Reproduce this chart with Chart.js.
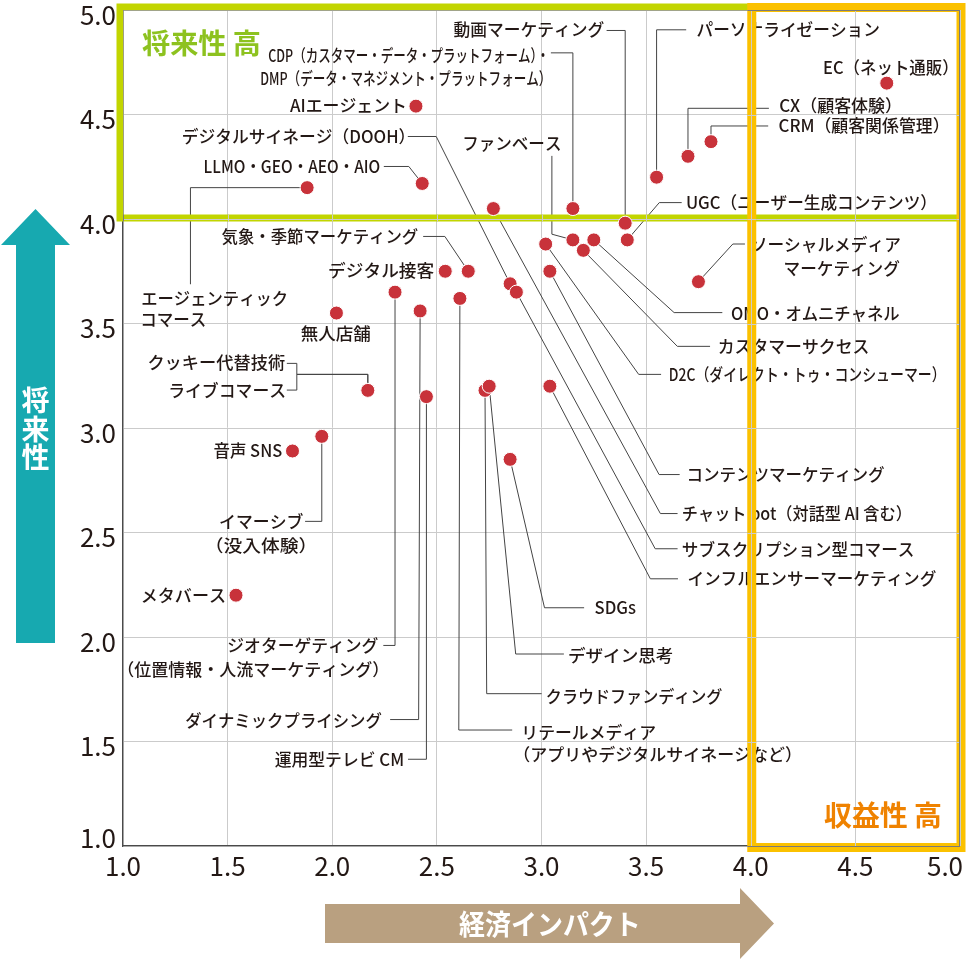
<!DOCTYPE html>
<html lang="ja">
<head>
<meta charset="utf-8">
<title>経済インパクト × 将来性</title>
<script src="https://cdn.jsdelivr.net/npm/chart.js@4.4.1/dist/chart.umd.min.js"></script>
<style>
  html, body { margin: 0; padding: 0; background: #fff; }
  #wrap { width: 980px; height: 976px; }
</style>
</head>
<body>
<div id="wrap"><canvas id="myChart" width="980" height="976"></canvas></div>
<script>
// chart data
const names = [
    'EC（ネット通販）',
    'CRM（顧客関係管理）',
    'CX（顧客体験）',
    'パーソナライゼーション',
    '動画マーケティング',
    'CDP（カスタマー・データ・プラットフォーム）・\nDMP（データ・マネジメント・プラットフォーム）',
    'ファンベース',
    'OMO・オムニチャネル',
    'カスタマーサクセス',
    'UGC（ユーザー生成コンテンツ）',
    'D2C（ダイレクト・トゥ・コンシューマー）',
    'コンテンツマーケティング',
    'ソーシャルメディア\nマーケティング',
    'チャット bot（対話型 AI 含む）',
    'デジタルサイネージ（DOOH）',
    'サブスクリプション型コマース',
    '気象・季節マーケティング',
    'デジタル接客',
    'ジオターゲティング\n（位置情報・人流マーケティング）',
    'ダイナミックプライシング',
    'リテールメディア\n（アプリやデジタルサイネージなど）',
    '無人店舗',
    'ライブコマース',
    'クッキー代替技術',
    '運用型テレビ CM',
    'クラウドファンディング',
    'デザイン思考',
    'インフルエンサーマーケティング',
    'SDGs',
    '音声 SNS',
    'イマーシブ\n（没入体験）',
    'メタバース',
    'AIエージェント',
    'LLMO・GEO・AEO・AIO',
    'エージェンティック\nコマース'
];

// 経済インパクト (x)
const impact = [4.65, 3.81, 3.70, 3.55, 3.40, 3.15, 3.15, 3.25, 3.20, 3.41,
                3.02, 3.04, 3.75, 2.77, 2.85, 2.88, 2.65, 2.54, 2.30, 2.42,
                2.61, 2.02, 2.17, 2.17, 2.45, 2.73, 2.75, 3.04, 2.85, 1.81,
                1.95, 1.54, 2.40, 2.43, 1.88];

// 将来性 (y)
const future = [4.65, 4.37, 4.30, 4.20, 3.98, 4.05, 3.90, 3.90, 3.85, 3.90,
                3.88, 3.75, 3.70, 4.05, 3.69, 3.65, 3.75, 3.75, 3.65, 3.56,
                3.62, 3.55, 3.18, 3.18, 3.15, 3.18, 3.20, 3.20, 2.85, 2.89,
                2.96, 2.20, 4.54, 4.17, 4.15];

const tickLabels = ['1.0', '1.5', '2.0', '2.5', '3.0', '3.5', '4.0', '4.5', '5.0'];

const xTitle = '経済インパクト';
const yTitle = '将来性';
const topZone = '将来性 高';
const rightZone = '収益性 高';

// label layout, pixels relative to each point:
// t = text lines [inkLeft, inkRight, centerY], p = leader line waypoints
const spots = [
    { t: [[-62.7, 61.3, -15.7]], p: [] },
    { t: [[67.5, 227.6, -15.7]], p: [[57.2, -15.7], [0, -15.7]] },
    { t: [[91.2, 203.1, -50.3]], p: [[80.9, -48], [0, -48]] },
    { t: [[39.9, 222.4, -147.4]], p: [[29.6, -147.4], [0, -147.4]] },
    { t: [[-171.8, -21, -192.7]], p: [[-18.6, -192.7], [0, -192.7]] },
    { t: [[-304.6, -28, -154], [-311.9, -29.6, -130.7]], p: [[-22, -155.7], [0, -155.7]] },
    { t: [[-108.8, -12.4, -95]], p: [[-21, -84], [-21, -5.7]] },
    { t: [[137.1, 305.8, 73.7]], p: [[128.5, 72.7], [80.3, 72.7]] },
    { t: [[135.3, 285.1, 96]], p: [[126.7, 96], [94, 96]] },
    { t: [[59.6, 298.9, -37.3]], p: [[54.4, -37.3], [32, -37.3]] },
    { t: [[124, 390.9, 130.3]], p: [[115.4, 130.3], [93, 130.3]] },
    { t: [[138.5, 334.7, 203.3]], p: [[129.8, 203.3], [109.2, 203.3]] },
    { t: [[53.3, 201.4, -37.7], [86.1, 201.4, -13.3]], p: [[46.5, -37.7], [34.4, -37.7]] },
    { t: [[189.4, 408, 305]], p: [[184.2, 305], [167, 305]] },
    { t: [[-327.3, -105.6, -147.3]], p: [[-102.3, -147.3], [-73.9, -147.3]] },
    { t: [[166.4, 397.1, 256.6]], p: [[161.2, 256.6], [138.8, 256.6]] },
    { t: [[-246.7, -50.1, -34.8]], p: [[-45.1, -34.8], [-23.4, -34.8]] },
    { t: [[-116.1, -11.1, -1.2]], p: [] },
    { t: [[-166.7, -16.7, 353.3], [-266.7, -16.7, 378.3]], p: [[-11.7, 353.3], [0, 353.3]] },
    { t: [[-235, -38.3, 408.6]], p: [[-30, 408.6], [-1.5, 408.6]] },
    { t: [[64.4, 195.2, 434], [64.4, 331.2, 455.6]], p: [[52.3, 431.6], [-1.1, 431.6]] },
    { t: [[-35.6, 34.4, 21]], p: [] },
    { t: [[-197.7, -82.7, -0.3]], p: [[-81, -0.3], [-71, -0.3], [-71, -16], [0, -16]] },
    { t: [[-219.4, -82.7, -27]], p: [[-81, -27], [-71, -27], [-71, -16], [0, -16]] },
    { t: [[-151.7, -23.4, 362.6]], p: [[-18.4, 362.6], [0, 362.6]] },
    { t: [[61.8, 237.4, 306]], p: [[56.6, 303.3], [1.7, 303.3]] },
    { t: [[79.8, 183.1, 269.5]], p: [[74.7, 267.8], [26.5, 267.8]] },
    { t: [[138.5, 386.4, 192.6]], p: [[128.1, 192.6], [100.5, 192.6]] },
    { t: [[84.4, 125.7, 148.4]], p: [[74, 148.4], [34.4, 148.4]] },
    { t: [[-79, -10.6, 0]], p: [] },
    { t: [[-101.7, -18.4, 85], [-105, -16.7, 109.3]], p: [[-16.7, 85], [0, 85]] },
    { t: [[-94.3, -11, 0]], p: [] },
    { t: [[-126, -11, -1]], p: [] },
    { t: [[-217.7, -42.7, -17]], p: [[-38.4, -17], [-13.4, -17]] },
    { t: [[-165, -20, 110.6], [-165, -101.7, 133.3]], p: [[-116.7, 96.6], [-116.7, 0]] }
];

const FONT = '"Noto Sans CJK JP", "Noto Sans", sans-serif';
const INK = '#231815';
const GRID = '#cbcbcb';

// text squeezed/stretched so its ink fits between x0 and x1
function inkText(ctx, text, x0, x1, yc, font, color) {
    ctx.save();
    ctx.font = font;
    ctx.fillStyle = color;
    ctx.textAlign = 'left';
    ctx.textBaseline = 'alphabetic';
    const m = ctx.measureText(text);
    const w = m.actualBoundingBoxLeft + m.actualBoundingBoxRight;
    let sx = (x1 - x0) / w;
    sx = Math.max(0.6, Math.min(1.2, sx));
    const base = yc + (m.actualBoundingBoxAscent - m.actualBoundingBoxDescent) / 2;
    ctx.translate(x0, base);
    ctx.scale(sx, 1);
    ctx.fillText(text, m.actualBoundingBoxLeft, 0);
    ctx.restore();
}

// centred vertically on ink
function midText(ctx, text, x, yc, align, font, color) {
    ctx.save();
    ctx.font = font;
    ctx.fillStyle = color;
    ctx.textAlign = align;
    ctx.textBaseline = 'alphabetic';
    const m = ctx.measureText(text);
    ctx.fillText(text, x, yc + (m.actualBoundingBoxAscent - m.actualBoundingBoxDescent) / 2);
    ctx.restore();
}

function gridLines(ctx, xs, ys, area) {
    ctx.strokeStyle = GRID;
    ctx.lineWidth = 1;
    tickLabels.forEach(t => {
        const v = parseFloat(t);
        const px = Math.round(xs.getPixelForValue(v)) + 0.5;
        const py = Math.round(ys.getPixelForValue(v)) + 0.5;
        ctx.beginPath(); ctx.moveTo(px, area.top); ctx.lineTo(px, area.bottom); ctx.stroke();
        ctx.beginPath(); ctx.moveTo(area.left, py); ctx.lineTo(area.right, py); ctx.stroke();
    });
    ctx.strokeStyle = '#7a7a7a';
    ctx.strokeRect(area.left + 0.5, area.top + 0.5, area.right - area.left - 1, area.bottom - area.top);
}

function band(ctx, xs, ys, area, r, lw, color) {
    ctx.save();
    ctx.strokeStyle = color;
    ctx.lineWidth = lw;
    ctx.strokeRect(r.l, r.t, r.r - r.l, r.b - r.t);
    // grid shows through the band
    ctx.beginPath();
    ctx.rect(r.l - lw / 2, r.t - lw / 2, r.r - r.l + lw, r.b - r.t + lw);
    ctx.rect(r.l + lw / 2, r.t + lw / 2, r.r - r.l - lw, r.b - r.t - lw);
    ctx.clip('evenodd');
    gridLines(ctx, xs, ys, area);
    ctx.restore();
}

const mapPlugin = {
    id: 'mapPlugin',
    beforeDatasetsDraw(chart) {
        const ctx = chart.ctx;
        const xs = chart.scales.x, ys = chart.scales.y;
        const area = chart.chartArea;

        // leader lines
        ctx.save();
        ctx.strokeStyle = '#444';
        ctx.lineWidth = 1;
        spots.forEach((s, i) => {
            if (!s.p.length) return;
            const cx = xs.getPixelForValue(impact[i]);
            const cy = ys.getPixelForValue(future[i]);
            ctx.beginPath();
            s.p.forEach((q, k) => {
                if (k === 0) ctx.moveTo(cx + q[0], cy + q[1]);
                else ctx.lineTo(cx + q[0], cy + q[1]);
            });
            ctx.lineTo(cx, cy);
            ctx.stroke();
        });
        ctx.restore();

        // labels
        spots.forEach((s, i) => {
            const cx = xs.getPixelForValue(impact[i]);
            const cy = ys.getPixelForValue(future[i]);
            const lines = names[i].split('\n');
            lines.forEach((line, k) => {
                const g = s.t[k];
                inkText(ctx, line, cx + g[0], cx + g[1], cy + g[2], '500 17px ' + FONT, INK);
            });
        });

        // quadrant frames
        const x1 = xs.getPixelForValue(1), x4 = xs.getPixelForValue(4), x5 = xs.getPixelForValue(5);
        const y1 = ys.getPixelForValue(1), y4 = ys.getPixelForValue(4), y5 = ys.getPixelForValue(5);
        band(ctx, xs, ys, area, { l: x1 - 3, t: y5 - 3, r: x5 + 1, b: y4 - 1 }, 7, '#c2d500');
        band(ctx, xs, ys, area, { l: x4 + 1, t: y5 - 2.5, r: x5 + 1, b: y1 + 1.5 }, 9, '#fbc100');
    },
    afterDraw(chart) {
        const ctx = chart.ctx;
        const xs = chart.scales.x, ys = chart.scales.y;

        // tick labels
        tickLabels.forEach(t => {
            const v = parseFloat(t);
            const py = ys.getPixelForValue(v) + (v === 1 ? -8 : 5);
            midText(ctx, t, 116, py, 'right', '26px ' + FONT, INK);
            const px = xs.getPixelForValue(v) + (v === 5 ? -15 : 0);
            midText(ctx, t, px, 866, 'center', '26px ' + FONT, INK);
        });

        // quadrant titles
        inkText(ctx, topZone, 142, 260, 42.7, 'bold 28px ' + FONT, '#8dc21f');
        inkText(ctx, rightZone, 824, 941, 815, 'bold 28px ' + FONT, '#ef8200');

        // y axis arrow
        ctx.save();
        ctx.fillStyle = '#17a9b0';
        ctx.beginPath();
        ctx.moveTo(35.5, 209);
        ctx.lineTo(70, 245);
        ctx.lineTo(55, 245);
        ctx.lineTo(55, 643);
        ctx.lineTo(16, 643);
        ctx.lineTo(16, 245);
        ctx.lineTo(1, 245);
        ctx.closePath();
        ctx.fill();

        // x axis arrow
        ctx.fillStyle = '#b9a080';
        ctx.beginPath();
        ctx.moveTo(325, 904);
        ctx.lineTo(740, 904);
        ctx.lineTo(740, 888);
        ctx.lineTo(774, 923.5);
        ctx.lineTo(740, 959);
        ctx.lineTo(740, 943);
        ctx.lineTo(325, 943);
        ctx.closePath();
        ctx.fill();
        ctx.restore();

        const ys0 = [400, 428.5, 457];
        yTitle.split('').forEach((ch, k) => {
            midText(ctx, ch, 35.5, ys0[k], 'center', 'bold 28px ' + FONT, '#fff');
        });
        inkText(ctx, xTitle, 459, 638, 924, 'bold 28px ' + FONT, '#fff');
    }
};

const ctx = document.getElementById('myChart');

var chart = new Chart(ctx, {
    type: 'scatter',
    data: {
        datasets: [{
            label: '経済インパクト × 将来性',
            data: impact.map((v, i) => ({ x: v, y: future[i] })),
            backgroundColor: '#c8323a',
            borderColor: '#ffffff',
            borderWidth: 1,
            pointRadius: 7,
            pointHoverRadius: 7
        }]
    },
    options: {
        responsive: false,
        animation: false,
        events: [],
        layout: {
            padding: { top: 10, right: 20, bottom: 0, left: 0 }
        },
        plugins: {
            legend: { display: false },
            tooltip: { enabled: false }
        },
        scales: {
            x: {
                type: 'linear',
                min: 1,
                max: 5,
                ticks: { stepSize: 0.5, display: false },
                grid: { color: GRID, lineWidth: 1, drawTicks: false },
                border: { color: '#4a4a4a', width: 1.3 },
                afterFit: s => { s.height = 130; }
            },
            y: {
                type: 'linear',
                min: 1,
                max: 5,
                ticks: { stepSize: 0.5, display: false },
                grid: { color: GRID, lineWidth: 1, drawTicks: false },
                border: { color: '#4a4a4a', width: 1.3 },
                afterFit: s => { s.width = 123; }
            }
        }
    },
    plugins: [mapPlugin]
});
</script>
</body>
</html>
